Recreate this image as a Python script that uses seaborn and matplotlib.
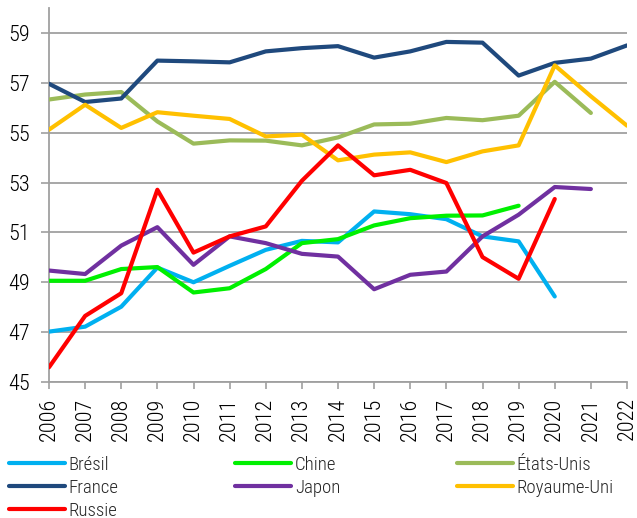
import matplotlib
matplotlib.use("Agg")
import matplotlib.pyplot as plt
import numpy as np
import pandas as pd
import seaborn as sns

years = list(range(2006, 2023))

bresil = [47.02, 47.22, 48.02, 49.59, 49.00, 49.66, 50.30, 50.66, 50.60, 51.84,
          51.73, 51.53, 50.84, 50.64, 48.43, None, None]
chine = [49.06, 49.06, 49.53, 49.61, 48.59, 48.76, 49.53, 50.57, 50.73, 51.28,
         51.57, 51.67, 51.68, 52.07, None, None, None]
etats_unis = [56.33, 56.53, 56.63, 55.45, 54.56, 54.69, 54.68, 54.49, 54.81, 55.33,
              55.36, 55.59, 55.50, 55.68, 57.04, 55.79, None]
france = [56.96, 56.23, 56.37, 57.89, 57.86, 57.82, 58.26, 58.39, 58.47, 58.01,
          58.26, 58.64, 58.61, 57.29, 57.80, 57.97, 58.50]
japon = [49.47, 49.33, 50.47, 51.21, 49.70, 50.84, 50.57, 50.14, 50.03, 48.72,
         49.30, 49.43, 50.84, 51.71, 52.82, 52.74, None]
royaume_uni = [55.12, 56.12, 55.19, 55.82, 55.68, 55.55, 54.85, 54.92, 53.89, 54.12,
               54.21, 53.82, 54.25, 54.49, 57.70, 56.46, 55.28]
russie = [45.59, 47.65, 48.56, 52.71, 50.19, 50.84, 51.24, 53.07, 54.49, 53.29,
          53.51, 52.98, 50.01, 49.14, 52.34, None, None]

series = {
    "Brésil": bresil,
    "Chine": chine,
    "États-Unis": etats_unis,
    "France": france,
    "Japon": japon,
    "Royaume-Uni": royaume_uni,
    "Russie": russie,
}
colors = {
    "Brésil": "#00B0F0",
    "Chine": "#00F000",
    "États-Unis": "#9BBB59",
    "France": "#1F497D",
    "Japon": "#7030A0",
    "Royaume-Uni": "#FFC000",
    "Russie": "#FF0000",
}
y_ticks = [45, 47, 49, 51, 53, 55, 57, 59]

rows = []
for name, vals in series.items():
    for yr, v in zip(years, vals):
        if v is not None:
            rows.append({"année": yr, "valeur": v, "pays": name})
df = pd.DataFrame(rows)

sns.set_theme(style="white")
plt.rcParams["font.family"] = ["Roboto Condensed", "Liberation Sans Narrow", "DejaVu Sans"]
plt.rcParams["font.stretch"] = "condensed"
plt.rcParams["font.weight"] = "light"

fig = plt.figure(figsize=(6.37, 5.18), dpi=100)
ax = fig.add_axes([49 / 637, 1 - 382 / 518, (627 - 49) / 637, (382 - 8) / 518])

sns.lineplot(data=df, x="année", y="valeur", hue="pays", hue_order=list(series.keys()),
             palette=colors, linewidth=3, ax=ax, legend=True, estimator=None, sort=True)

ax.set_xlim(2006, 2022)
ax.set_ylim(45, 60)
ax.set_xticks(years)
ax.set_xticklabels([str(y) for y in years], rotation=90)
ax.set_yticks(y_ticks)
ax.set_xlabel("")
ax.set_ylabel("")

grid_col = "#A0A0A0"
ax.yaxis.grid(True, color=grid_col, linewidth=1.3)
ax.xaxis.grid(False)
ax.set_axisbelow(True)
for side in ["top", "right"]:
    ax.spines[side].set_visible(False)
for side in ["left", "bottom"]:
    ax.spines[side].set_color(grid_col)
    ax.spines[side].set_linewidth(1.3)
    ax.spines[side].set_zorder(1)

ax.tick_params(axis="y", direction="out", length=6, width=1.2, color=grid_col,
               pad=8, labelsize=16, labelcolor="black", left=True)
ax.tick_params(axis="x", direction="out", length=5, width=1.2, color=grid_col,
               pad=6, labelsize=16, labelcolor="black", bottom=True)

handles, labels = ax.get_legend_handles_labels()
ax.get_legend().remove()
lookup = dict(zip(labels, handles))
order = ["Brésil", "France", "Russie", "Chine", "Japon", "États-Unis", "Royaume-Uni"]
for h in lookup.values():
    h.set_linewidth(3)
fig.legend([lookup[n] for n in order], order, ncol=3, loc="upper left",
           bbox_to_anchor=(5 / 637, 1 - 452 / 518), frameon=False, fontsize=13.5,
           handlelength=3.0, handletextpad=0.2, columnspacing=6.2,
           labelspacing=0.26, borderaxespad=0, borderpad=0.2)

fig.savefig("out.png", dpi=100)
